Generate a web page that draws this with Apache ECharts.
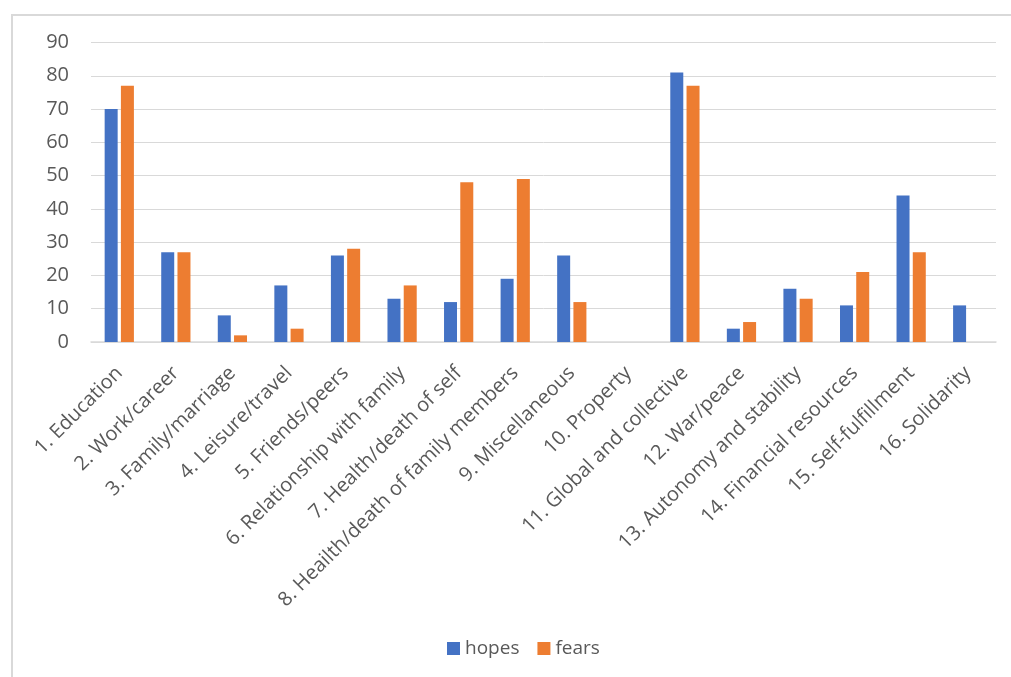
<!DOCTYPE html>
<html>
<head>
<meta charset="utf-8">
<script src="https://cdn.jsdelivr.net/npm/echarts@6/dist/echarts.min.js"></script>
<style>
  html, body { margin: 0; padding: 0; background: #fff; }
  #frame { position: absolute; left: 11px; top: 14px; width: 1000px; height: 663px; border-top: 2px solid #d9d9d9; border-left: 2px solid #d9d9d9; }
  #chart { position: absolute; left: 0; top: 0; width: 1011px; height: 677px; }
</style>
</head>
<body>
<div id="frame"></div>
<div id="chart"></div>
<script>
const categories = [
  "1. Education", "2. Work/career", "3. Family/marriage", "4. Leisure/travel",
  "5. Friends/peers", "6. Relationship with family", "7. Health/death of self",
  "8. Heailth/death of family members", "9. Miscellaneous", "10. Property",
  "11. Global and collective", "12. War/peace", "13. Autonomy and stability",
  "14. Financial resources", "15. Self-fulfillment", "16. Solidarity"
];
const hopes = [70, 27, 8, 17, 26, 13, 12, 19, 26, 0, 81, 4, 16, 11, 44, 11];
const fears = [77, 27, 2, 4, 28, 17, 48, 49, 12, 0, 77, 6, 13, 21, 27, 0];
const seriesNames = ["hopes", "fears"];

const chart = echarts.init(document.getElementById('chart'));
const font = "'Open Sans', sans-serif";
chart.setOption({
  animation: false,
  color: ['#4472C4', '#ED7D31'],
  grid: { left: 91, right: 15, top: 42.5, bottom: 335, containLabel: false },
  legend: {
    data: seriesNames,
    bottom: 14,
    left: 442,
    itemWidth: 13,
    itemHeight: 13,
    itemGap: 18,
    icon: 'rect',
    textStyle: { color: '#595959', fontSize: 19, fontFamily: font }
  },
  xAxis: {
    type: 'category',
    data: categories,
    axisLine: { lineStyle: { color: '#d9d9d9', width: 1.5 } },
    axisTick: { show: false },
    axisLabel: { rotate: 45, interval: 0, margin: 28, color: '#595959', fontSize: 20, fontFamily: font }
  },
  yAxis: {
    type: 'value',
    min: 0, max: 90, interval: 10,
    axisLine: { show: false },
    axisTick: { show: false },
    splitLine: { lineStyle: { color: '#d9d9d9', width: 1 } },
    axisLabel: { margin: 22, color: '#595959', fontSize: 20, fontFamily: font }
  },
  series: [
    { name: seriesNames[0], type: 'bar', data: hopes, barWidth: 13, barGap: '25%' },
    { name: seriesNames[1], type: 'bar', data: fears, barWidth: 13, barGap: '25%' }
  ]
});
</script>
</body>
</html>
